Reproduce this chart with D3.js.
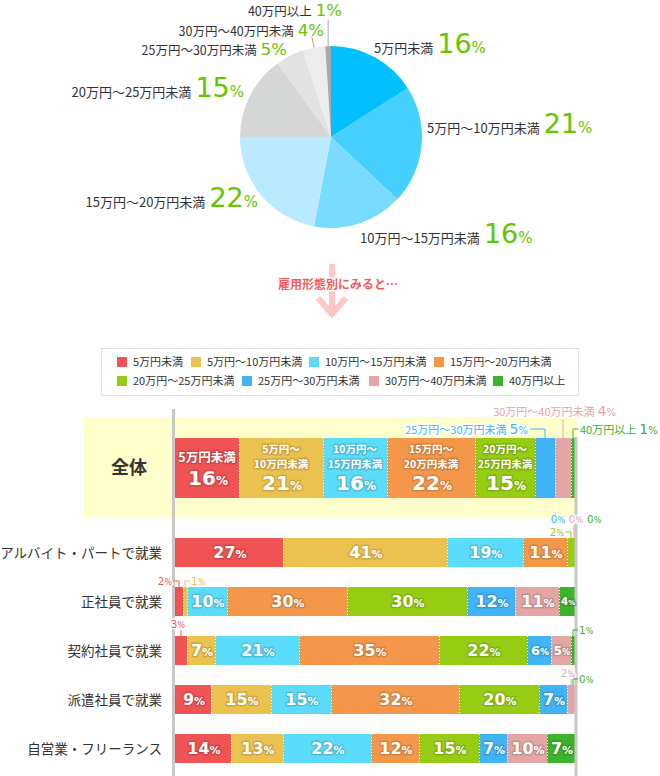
<!DOCTYPE html>
<html>
<head>
<meta charset="utf-8">
<script src="https://cdn.jsdelivr.net/npm/d3@7"></script>
<style>
body { margin: 0; background: #fff; }
svg { display: block; font-family: "Noto Sans CJK JP", sans-serif; }
</style>
</head>
<body>
<script>
var categories = ["5万円未満", "5万円～10万円未満", "10万円～15万円未満", "15万円～20万円未満",
                  "20万円～25万円未満", "25万円～30万円未満", "30万円～40万円未満", "40万円以上"];
var totalValues = [16, 21, 16, 22, 15, 5, 4, 1];

var groups = ["アルバイト・パートで就業", "正社員で就業", "契約社員で就業", "派遣社員で就業", "自営業・フリーランス"];
var arbeitValues = [27, 41, 19, 11, 2, 0, 0, 0];
var seishainValues = [2, 1, 10, 30, 30, 12, 11, 4];
var keiyakuValues = [3, 7, 21, 35, 22, 6, 5, 1];
var hakenValues = [9, 15, 15, 32, 20, 7, 2, 0];
var jieiValues = [14, 13, 22, 12, 15, 7, 10, 7];
var groupValues = [arbeitValues, seishainValues, keiyakuValues, hakenValues, jieiValues];

var pieColors = ["#02bffd", "#45d0ff", "#79dcff", "#b9eaff", "#d5d6d6", "#e2e2e2", "#ececec", "#a9a9a9"];
var barColors = ["#ef5353", "#ebc14f", "#5cdcfb", "#f4974b", "#96cc14", "#40b4f7", "#e4a5a5", "#3db22b"];
var green = "#66c400";
var numFont = "DejaVu Sans, sans-serif";

var width = 660, height = 776;
var svg = d3.select("body").append("svg").attr("width", width).attr("height", height);

// ---------- pie ----------
var cx = 331, cy = 137, r = 91;
var pie = d3.pie().sort(null).value(function(d) { return d; });
var arc = d3.arc().innerRadius(0).outerRadius(r);
var arcs = pie(totalValues);

var pg = svg.append("g").attr("transform", "translate(" + cx + "," + cy + ")");
pg.selectAll("path").data(arcs).enter().append("path")
    .attr("d", arc)
    .attr("fill", function(d, i) { return pieColors[i]; });

function edgePoint(d, rr) {
  var a = (d.startAngle + d.endAngle) / 2;
  return [cx + rr * Math.sin(a), cy - rr * Math.cos(a)];
}

// leader lines for the two thin slices
var p6a = edgePoint(arcs[6], r), p6b = edgePoint(arcs[6], r + 11);
svg.append("line").attr("x1", p6a[0]).attr("y1", p6a[1]).attr("x2", p6b[0]).attr("y2", p6b[1])
    .attr("stroke", "#aaa").attr("stroke-width", 1);
var p7 = edgePoint(arcs[7], r);
svg.append("line").attr("x1", p7[0]).attr("y1", p7[1]).attr("x2", p7[0]).attr("y2", 20)
    .attr("stroke", "#aaa").attr("stroke-width", 1);

// label placement (baseline)
var pieLabelPos = [
  {x: 374, y: 53, anchor: "start", big: true},
  {x: 427, y: 133, anchor: "start", big: true},
  {x: 360, y: 243, anchor: "start", big: true},
  {x: 258, y: 207, anchor: "end", big: true},
  {x: 244, y: 97, anchor: "end", big: true},
  {x: 287, y: 55, anchor: "end", big: false},
  {x: 324, y: 35.5, anchor: "end", big: false},
  {x: 342, y: 16, anchor: "end", big: false}
];

arcs.forEach(function(d, i) {
  var p = pieLabelPos[i];
  var t = svg.append("text").attr("x", p.x).attr("y", p.y).attr("text-anchor", p.anchor);
  t.append("tspan").attr("font-size", p.big ? 13 : 12.5).attr("fill", "#333").text(categories[i]);
  t.append("tspan").attr("dx", 4).attr("font-family", numFont).attr("font-size", p.big ? 27 : 16.5)
      .attr("fill", green).text(d.data);
  t.append("tspan").attr("font-family", numFont).attr("font-size", p.big ? 15 : 16.5)
      .attr("fill", green).text("%");
});

// ---------- arrow ----------
var arrow = svg.append("g").attr("fill", "none").attr("stroke", "#ffc6c6");
arrow.append("line").attr("x1", 332).attr("y1", 264).attr("x2", 332).attr("y2", 314).attr("stroke-width", 6);
arrow.append("polyline").attr("points", "318,298 332,314 346,298").attr("stroke-width", 6)
    .attr("stroke-linejoin", "miter");
svg.append("text").attr("x", 338).attr("y", 289).attr("text-anchor", "middle")
    .attr("font-size", 12).attr("font-weight", "bold").attr("fill", "#f45c5c")
    .attr("stroke", "#fff").attr("stroke-width", 3).attr("paint-order", "stroke")
    .text("雇用形態別にみると…");

// ---------- legend ----------
svg.append("rect").attr("x", 101.5).attr("y", 348.5).attr("width", 477).attr("height", 47)
    .attr("fill", "none").attr("stroke", "#aaa").attr("stroke-dasharray", "1,2");
var legendPos = [[117, 362], [191, 362], [309, 362], [434, 362], [117, 381], [242, 381], [369, 381], [493, 381]];
var lg = svg.append("g").selectAll("g").data(categories).enter().append("g")
    .attr("transform", function(d, i) { return "translate(" + legendPos[i][0] + "," + legendPos[i][1] + ")"; });
lg.append("rect").attr("x", 0).attr("y", -5).attr("width", 10).attr("height", 10)
    .attr("fill", function(d, i) { return barColors[i]; });
lg.append("text").attr("x", 16).attr("y", 4).attr("font-size", 11).attr("fill", "#333").text(function(d) { return d; });

// ---------- bars ----------
var x = d3.scaleLinear().domain([0, 100]).range([175, 575]);
var y = d3.scaleBand().domain(groups).range([528, 773]).paddingInner(0.408).paddingOuter(0.204);
var totalTop = 438, totalH = 60;

svg.append("rect").attr("x", 84).attr("y", 417).attr("width", 493).attr("height", 100).attr("fill", "#ffffcc");
svg.append("text").attr("x", 129).attr("y", 474).attr("text-anchor", "middle")
    .attr("font-size", 18).attr("font-weight", "bold").attr("fill", "#333").text("全体");

var stack = d3.stack().keys(d3.range(categories.length));
var rowsData = [totalValues].concat(groupValues);
var series = stack(rowsData);

function rowTop(ri) { return ri === 0 ? totalTop : y(groups[ri - 1]); }
function rowH(ri) { return ri === 0 ? totalH : y.bandwidth(); }

var segs = [];
series.forEach(function(s, k) {
  s.forEach(function(d, ri) {
    segs.push({k: k, ri: ri, x0: d[0], x1: d[1], v: d[1] - d[0]});
  });
});

svg.append("g").selectAll("rect").data(segs.filter(function(d) { return d.v > 0; })).enter().append("rect")
    .attr("x", function(d) { return x(d.x0); })
    .attr("y", function(d) { return rowTop(d.ri); })
    .attr("width", function(d) { return x(d.x1) - x(d.x0); })
    .attr("height", function(d) { return rowH(d.ri); })
    .attr("fill", function(d) { return barColors[d.k]; });

// dotted separators
svg.append("g").selectAll("line")
    .data(segs.filter(function(d) { return d.v > 0 && d.x0 > 0; })).enter().append("line")
    .attr("x1", function(d) { return x(d.x0) + 0.5; })
    .attr("x2", function(d) { return x(d.x0) + 0.5; })
    .attr("y1", function(d) { return rowTop(d.ri); })
    .attr("y2", function(d) { return rowTop(d.ri) + rowH(d.ri); })
    .attr("stroke", "#fff").attr("stroke-width", 1).attr("stroke-dasharray", "1,2");

// axis lines
svg.append("line").attr("x1", 173.5).attr("x2", 173.5).attr("y1", 409).attr("y2", 776)
    .attr("stroke", "#c8c8c8").attr("stroke-width", 3);
svg.append("line").attr("x1", 576).attr("x2", 576).attr("y1", 437).attr("y2", 776)
    .attr("stroke", "#c8c8c8").attr("stroke-width", 3);

// row labels
svg.append("g").selectAll("text").data(groups).enter().append("text")
    .attr("x", 162).attr("y", function(d) { return y(d) + y.bandwidth() / 2 + 5; })
    .attr("text-anchor", "end").attr("font-size", 13.5).attr("fill", "#333")
    .text(function(d) { return d; });

function glow(sel, k) {
  sel.attr("fill", "#fff").attr("stroke", d3.color(barColors[k]).darker(0.8))
      .attr("stroke-opacity", 0.55).attr("stroke-width", 3)
      .attr("stroke-linejoin", "round").attr("paint-order", "stroke");
}

// inside labels for 全体 (category lines + value in one text)
segs.filter(function(d) { return d.ri === 0 && d.v >= 10; }).forEach(function(d) {
  var mx = x((d.x0 + d.x1) / 2);
  var parts = categories[d.k].indexOf("～") > 0 ? categories[d.k].split("～") : [categories[d.k]];
  if (parts.length === 2) parts[0] += "～";
  var t = svg.append("text").attr("text-anchor", "middle").attr("font-weight", "bold").call(glow, d.k);
  parts.forEach(function(p, j) {
    t.append("tspan").attr("x", mx).attr("y", parts.length === 1 ? 462 : 452.5 + j * 15)
        .attr("font-size", parts.length === 1 ? 12.5 : 10.5).text(p);
  });
  t.append("tspan").attr("x", mx + 1).attr("y", parts.length === 1 ? 485 : 490)
      .attr("font-family", numFont).attr("font-size", 20).text(d.v);
  t.append("tspan").attr("font-family", numFont).attr("font-size", 12).text("%");
});

// inside labels for groups
segs.filter(function(d) { return d.ri > 0 && d.v >= 4; }).forEach(function(d) {
  var mx = x((d.x0 + d.x1) / 2);
  var ns = d.v >= 7 ? 16 : 7 + d.v;
  var t = svg.append("text").attr("x", mx + 1).attr("y", rowTop(d.ri) + rowH(d.ri) / 2 + ns * 0.36)
      .attr("text-anchor", "middle").call(glow, d.k);
  t.append("tspan").attr("font-family", numFont).attr("font-weight", "bold").attr("font-size", ns).text(d.v);
  t.append("tspan").attr("font-family", numFont).attr("font-weight", "bold").attr("font-size", Math.round(ns * 0.68)).text("%");
});

// outside notes for small segments
var notes = [
  {ri: 0, k: 5, type: "totalLeft"}, {ri: 0, k: 6, type: "totalUp"}, {ri: 0, k: 7, type: "totalRight"},
  {ri: 1, k: 4, type: "left"}, {ri: 1, k: 5, type: "zero", pos: -1}, {ri: 1, k: 6, type: "zero", pos: 0},
  {ri: 1, k: 7, type: "zero", pos: 1},
  {ri: 2, k: 0, type: "left"}, {ri: 2, k: 1, type: "right"},
  {ri: 3, k: 0, type: "above"}, {ri: 3, k: 7, type: "right"},
  {ri: 4, k: 6, type: "above"}, {ri: 4, k: 7, type: "right"}
];

function halo(sel) {
  sel.attr("stroke", "#fff").attr("stroke-width", 3).attr("stroke-linejoin", "round").attr("paint-order", "stroke");
}
function noteText(px, py, anchor, d, big) {
  var t = svg.append("text").attr("x", px).attr("y", py).attr("text-anchor", anchor)
      .attr("fill", barColors[d.k]).call(halo);
  if (big) t.append("tspan").attr("font-size", 11).text(categories[d.k]);
  t.append("tspan").attr("dx", big ? 3 : 0).attr("font-family", numFont).attr("font-size", big ? 14 : 10.5).text(d.v);
  t.append("tspan").attr("font-family", numFont).attr("font-size", big ? 10 : 8).text("%");
}
function path(pts, k) {
  svg.append("polyline").attr("points", pts.map(function(p) { return p.join(","); }).join(" "))
      .attr("fill", "none").attr("stroke", barColors[k]).attr("stroke-width", 1);
}

notes.forEach(function(n) {
  var s = series[n.k][n.ri];
  var d = {k: n.k, v: s[1] - s[0]};
  var mx = Math.min(x((s[0] + s[1]) / 2), 573);
  var top = rowTop(n.ri);
  if (n.type === "totalLeft") {
    path([[mx, top], [mx, top - 9], [mx - 15, top - 9]], n.k);
    noteText(mx - 17, top - 4, "end", d, true);
  } else if (n.type === "totalUp") {
    path([[mx, top], [mx, top - 19]], n.k);
    noteText(616, top - 22, "end", d, true);
  } else if (n.type === "totalRight") {
    path([[mx, top], [mx, top - 9], [mx + 5, top - 9]], n.k);
    noteText(mx + 7, top - 4, "start", d, true);
  } else if (n.type === "left") {
    path([[mx, top], [mx, top - 6], [mx - 6, top - 6]], n.k);
    noteText(mx - 7, top - 2, "end", d, false);
  } else if (n.type === "right") {
    path([[mx, top], [mx, top - 6], [mx + 5, top - 6]], n.k);
    noteText(mx + 6, top - 2, "start", d, false);
  } else if (n.type === "above") {
    path([[mx, top], [mx, top - 6]], n.k);
    noteText(mx - 3, top - 8, "middle", d, false);
  } else if (n.type === "zero") {
    if (n.pos === 0) path([[mx + 1, top], [mx + 1, top - 13]], n.k);
    var ax = n.pos < 0 ? 565 : n.pos > 0 ? 587 : 576;
    noteText(ax, top - 15, n.pos < 0 ? "end" : n.pos > 0 ? "start" : "middle", d, false);
  }
});
</script>
</body>
</html>
